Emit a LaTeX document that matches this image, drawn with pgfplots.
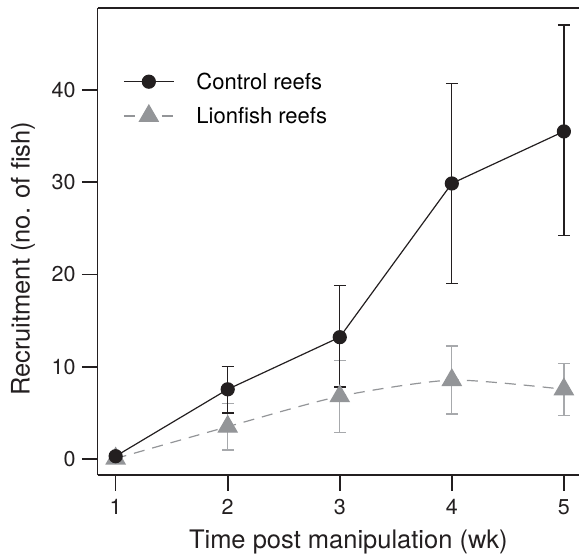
\documentclass[border=0pt]{standalone}
\usepackage{fontspec}
\setmainfont{TeX Gyre Heros}
\usepackage{pgfplots}
\pgfplotsset{compat=1.18}
\usepackage{pgfplotstable}
\definecolor{ink}{HTML}{231F20}
\definecolor{lgray}{HTML}{939598}
\definecolor{lbar}{HTML}{A7A9AC}

\pgfplotstableread{
x y ep em
1 0.3  0     0
2 7.55 2.5   2.58
3 13.2 5.6   5.4
4 29.86 10.86 10.86
5 35.5 11.55 11.3
}\control

\pgfplotstableread{
x y ep em
1 0.05 0   0
2 3.5  2.5 2.52
3 6.8  3.9 3.9
4 8.55 3.68 3.68
5 7.55 2.79 2.8
}\lionfish

\begin{document}
\begin{tikzpicture}
\begin{axis}[
  at={(97.5bp,82.6bp)}, anchor=south west,
  scale only axis, width=481.5bp, height=467.6bp,
  xmin=0.838, xmax=5.135, ymin=-1.78, ymax=48.9,
  axis x line*=bottom, axis y line*=left,
  axis line style={line width=1.8bp, color=ink},
  tick align=outside,
  major tick length=15.5bp,
  tick style={line width=1.6bp, color=ink},
  xtick={1,2,3,4,5}, ytick={0,10,20,30,40},
  minor tick num=0,
  /pgf/number format/assume math mode=true,
  ticklabel style={font=\fontsize{21.5bp}{25bp}\selectfont, color=ink},
  xticklabel style={yshift=-5bp},
  yticklabel style={xshift=-3bp},
  xlabel={Time post manipulation (wk)},
  ylabel={Recruitment (no. of fish)},
  xlabel style={at={(axis description cs:0.521,-0.1414)}, anchor=center, inner sep=0pt, font=\fontsize{25.5bp}{30bp}\selectfont, color=ink},
  ylabel style={at={(axis description cs:-0.1547,0.463)}, anchor=center, rotate=0, inner sep=0pt, font=\fontsize{25.5bp}{30bp}\selectfont, color=ink},
  clip=false,
  reverse legend,
  legend cell align=left,
  legend image code/.code={\draw[mark repeat=2,mark phase=2,#1] plot coordinates {(0bp,0bp)(25bp,0bp)(50bp,0bp)};},
  legend style={draw=none, fill=none, inner sep=0pt, at={(axis cs:1.066,42.1)}, anchor=north west,
    font=\fontsize{22bp}{26bp}\selectfont, row sep=12.5bp,
    /tikz/every odd column/.append style={column sep=20bp}},
]
\addplot[color=lgray, line width=1.2bp, dash pattern=on 11bp off 8bp, smooth, tension=0.4,
  mark=triangle*, mark size=10.8bp, mark options={solid, fill=lgray, draw=lgray},
  error bars/.cd, y dir=both, y explicit,
  error bar style={line width=1.3bp, color=lbar, solid},
  error mark options={rotate=90, mark size=6bp, line width=1.3bp, color=lbar, solid}]
  table[x=x, y=y, y error plus=ep, y error minus=em] {\lionfish};
\addlegendentry{Lionfish reefs}
\addplot[color=ink, line width=1.2bp,
  mark=*, mark size=6.5bp, mark options={solid, fill=ink, draw=ink},
  error bars/.cd, y dir=both, y explicit,
  error bar style={line width=1.3bp, color=ink},
  error mark options={rotate=90, mark size=6bp, line width=1.3bp, color=ink}]
  table[x=x, y=y, y error plus=ep, y error minus=em] {\control};
\addlegendentry{Control reefs}
\draw[line width=1.8bp, color=ink] (rel axis cs:0,1) -- (rel axis cs:1,1);
\end{axis}
\pgfresetboundingbox
\useasboundingbox (0,0) rectangle (579bp,558bp);
\end{tikzpicture}
\end{document}
